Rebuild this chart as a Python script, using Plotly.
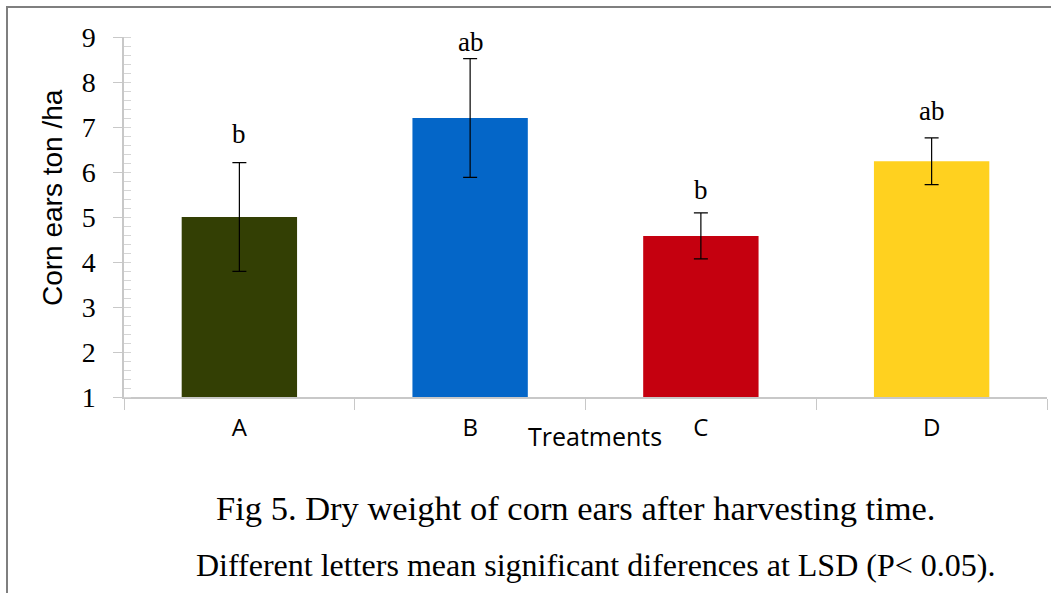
import plotly.graph_objects as go

categories = ["A", "B", "C", "D"]
values = [5.0, 7.2, 4.58, 6.24]
errors = [1.21, 1.32, 0.51, 0.52]
letters = ["b", "ab", "b", "ab"]
letter_shift = [29, 17, 23, 27]
colors = ["#333F04", "#0466C8", "#C5000F", "#FFD11F"]
y_ticks = [1, 2, 3, 4, 5, 6, 7, 8, 9]

W, H = 1051, 593
ML, MR, MT, MB = 124, 4, 37, 196
PW, PH = W - ML - MR, H - MT - MB


def px(x):
    return (x - ML) / PW


def py(y):
    return (H - MB - y) / PH


fig = go.Figure()
fig.add_trace(go.Bar(
    x=categories, y=[v - 1 for v in values], base=1,
    marker=dict(color=colors, line=dict(width=0)),
    width=0.5,
    error_y=dict(type="data", array=errors, color="black", thickness=1.2, width=7),
    hoverinfo="skip",
))

for c, v, e, t, s in zip(categories, values, errors, letters, letter_shift):
    fig.add_annotation(x=c, y=v + e, yref="y", text=t, showarrow=False,
                       yanchor="middle", yshift=s,
                       font=dict(family="Liberation Serif", size=27, color="black"))

grid_col = "#c8c8c8"
fig.update_layout(
    width=W, height=H,
    margin=dict(l=ML, r=MR, t=MT, b=MB),
    plot_bgcolor="white", paper_bgcolor="white",
    showlegend=False,
    xaxis=dict(
        range=[-0.5, 3.5], showgrid=False, showline=True, linecolor=grid_col, linewidth=1.5,
        ticks="outside", ticklen=11, tickcolor=grid_col, tickson="boundaries",
        tickfont=dict(family="Open Sans", size=24, color="black"),
        ticklabelstandoff=8,
    ),
    yaxis=dict(
        range=[1, 9], tickvals=y_ticks, showgrid=False, zeroline=False,
        showline=True, linecolor=grid_col, linewidth=1.5,
        ticks="outside", ticklen=9, tickcolor=grid_col,
        tickfont=dict(family="Liberation Serif", size=28, color="black"),
        ticklabelstandoff=12,
        minor=dict(dtick=0.2, ticks="inside", ticklen=7, tickcolor="#d5d5d5", showgrid=False),
    ),
    yaxis2=dict(
        range=[1, 9], overlaying="y", side="left", tickvals=y_ticks,
        showticklabels=False, showgrid=False, zeroline=False, showline=False,
        ticks="inside", ticklen=7, tickcolor=grid_col,
    ),
)

fig.add_annotation(x=px(52), y=py(198), xref="paper", yref="paper", text="Corn ears ton /ha",
                   textangle=-90, showarrow=False, xanchor="center", yanchor="middle",
                   font=dict(family="Liberation Sans", size=28, color="black"))
fig.add_annotation(x=px(595), y=py(436), xref="paper", yref="paper", text="Treatments",
                   showarrow=False, xanchor="center", yanchor="middle",
                   font=dict(family="Open Sans", size=25, color="black"))
fig.add_annotation(x=px(576), y=py(508), xref="paper", yref="paper",
                   text="Fig 5. Dry weight of corn ears after harvesting time.",
                   showarrow=False, xanchor="center", yanchor="middle",
                   font=dict(family="Liberation Serif", size=34.5, color="black"))
fig.add_annotation(x=px(595), y=py(565), xref="paper", yref="paper",
                   text="Different letters mean significant diferences at LSD (P< 0.05).",
                   showarrow=False, xanchor="center", yanchor="middle",
                   font=dict(family="Liberation Serif", size=32, color="black"))

border = "#7f7f7f"
fig.add_shape(type="line", xref="paper", yref="paper", x0=px(7), x1=px(7), y0=py(6), y1=py(600),
              line=dict(color=border, width=2))
fig.add_shape(type="line", xref="paper", yref="paper", x0=px(6), x1=px(1060), y0=py(7), y1=py(7),
              line=dict(color=border, width=2))

fig.write_html("out.html", config={"displayModeBar": False},
               post_script="document.body.style.margin='0';")
